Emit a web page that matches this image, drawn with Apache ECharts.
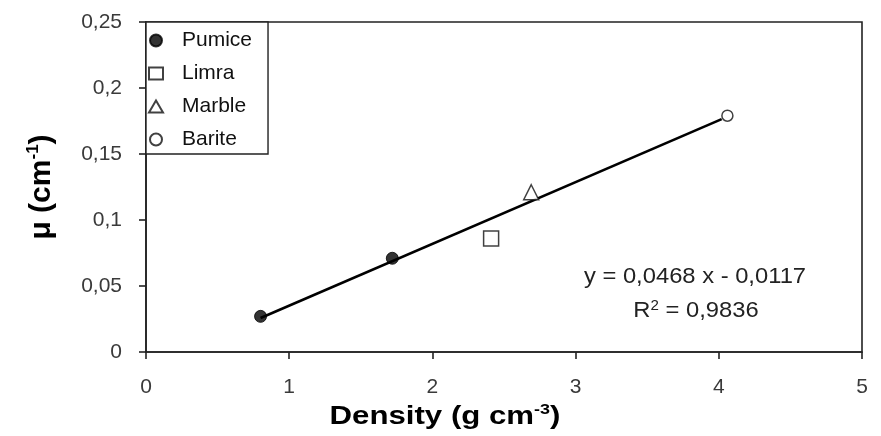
<!DOCTYPE html>
<html>
<head>
<meta charset="utf-8">
<script src="https://cdn.jsdelivr.net/npm/echarts@6/dist/echarts.min.js"></script>
<style>
html,body{margin:0;padding:0;background:#fff;}
#c{width:881px;height:436px;}
</style>
</head>
<body>
<div id="c"></div>
<script>
// Data
const pumiceX = [0.8, 1.72];
const pumiceY = [0.027, 0.071];
const limraX = [2.41];
const limraY = [0.086];
const marbleX = [2.69];
const marbleY = [0.121];
const bariteX = [4.06];
const bariteY = [0.179];
const trendSlope = 0.0468;
const trendIntercept = -0.0117;
const trendRange = [0.8, 4.02];
const xTicks = [0, 1, 2, 3, 4, 5];
const yTicks = [0, 0.05, 0.1, 0.15, 0.2, 0.25];

const pairs = (xs, ys) => xs.map((x, i) => [x, ys[i]]);
const trendData = trendRange.map(x => [x, trendSlope * x + trendIntercept]);
const fmtY = v => String(Math.round(v * 100) / 100).replace('.', ',');

const chart = echarts.init(document.getElementById('c'), null, {renderer: 'canvas'});
const font = 'Liberation Sans, Arial, sans-serif';
chart.setOption({
  animation: false,
  backgroundColor: '#fff',
  grid: {left: 146, right: 19, top: 22, bottom: 84, show: true, borderColor: '#222', borderWidth: 1.6, backgroundColor: 'transparent'},
  legend: {
    orient: 'vertical', left: 146, top: 22,
    data: ['Pumice', 'Limra', 'Marble', 'Barite'],
    backgroundColor: '#fff', borderColor: '#222', borderWidth: 1.4,
    padding: [8, 16, 4, 2], itemGap: 12, itemWidth: 14, itemHeight: 12,
    textStyle: {fontFamily: font, fontSize: 21, color: '#111', padding: [0, 0, 0, 14]}
  },
  xAxis: {
    type: 'value', min: 0, max: 5, interval: 1,
    axisLine: {show: true, onZero: false, lineStyle: {color: '#222', width: 1.6}},
    axisTick: {show: true, inside: false, length: 7, lineStyle: {color: '#222', width: 1.6}},
    axisLabel: {fontFamily: font, fontSize: 21, color: '#3a3a3a', margin: 25},
    splitLine: {show: false}
  },
  yAxis: {
    type: 'value', min: 0, max: 0.25, interval: 0.05,
    name: 'μ (cm{sup|-1})', nameLocation: 'middle', nameGap: 88, nameRotate: 90,
    nameTextStyle: {fontFamily: font, fontSize: 30, fontWeight: 'bold', color: '#000',
      rich: {sup: {fontFamily: font, fontSize: 17, fontWeight: 'bold', color: '#000', verticalAlign: 'top', padding: [0, 0, 16, 0]}}},
    axisLine: {show: true, onZero: false, lineStyle: {color: '#222', width: 1.6}},
    axisTick: {show: true, inside: false, length: 7, lineStyle: {color: '#222', width: 1.6}},
    axisLabel: {fontFamily: font, fontSize: 21, color: '#3a3a3a', margin: 24, formatter: fmtY},
    splitLine: {show: false}
  },
  series: [
    {name: 'Trend', type: 'line', data: trendData, symbol: 'none', lineStyle: {color: '#000', width: 2.6}, z: 1, silent: true},
    {name: 'Pumice', type: 'scatter', data: pairs(pumiceX, pumiceY), symbol: 'circle', symbolSize: 12,
      itemStyle: {color: '#000', borderColor: '#000', borderWidth: 1}, z: 3},
    {name: 'Limra', type: 'scatter', data: pairs(limraX, limraY), symbol: 'rect', symbolSize: 15,
      itemStyle: {color: '#fff', borderColor: '#111', borderWidth: 1.5}, z: 3},
    {name: 'Marble', type: 'scatter', data: pairs(marbleX, marbleY), symbol: 'triangle', symbolSize: 15,
      itemStyle: {color: '#fff', borderColor: '#111', borderWidth: 1.5}, z: 3},
    {name: 'Barite', type: 'scatter', data: pairs(bariteX, bariteY), symbol: 'circle', symbolSize: 11,
      itemStyle: {color: '#fff', borderColor: '#111', borderWidth: 1.5}, z: 3}
  ],
  graphic: [
    {type: 'text', x: 445, y: 417, scaleX: 1.2, style: {text: 'Density (g cm{sup|-3})', x: 0, y: 0, align: 'center', verticalAlign: 'middle',
      font: 'bold 26px Liberation Sans, Arial, sans-serif', fill: '#000',
      rich: {sup: {font: 'bold 15px Liberation Sans, Arial, sans-serif', fill: '#000', verticalAlign: 'top', padding: [0, 0, 14, 0]}}}},
    {type: 'text', x: 695, y: 277, scaleX: 1.08, style: {text: 'y = 0,0468 x - 0,0117', x: 0, y: 0, align: 'center', verticalAlign: 'middle',
      font: '22px Liberation Sans, Arial, sans-serif', fill: '#222'}},
    {type: 'text', x: 696, y: 311, scaleX: 1.08, style: {text: 'R{sup|2} = 0,9836', x: 0, y: 0, align: 'center', verticalAlign: 'middle',
      font: '22px Liberation Sans, Arial, sans-serif', fill: '#222',
      rich: {sup: {font: '14px Liberation Sans, Arial, sans-serif', fill: '#222', verticalAlign: 'top', padding: [0, 0, 10, 0]}}}}
  ]
});
</script>
</body>
</html>
